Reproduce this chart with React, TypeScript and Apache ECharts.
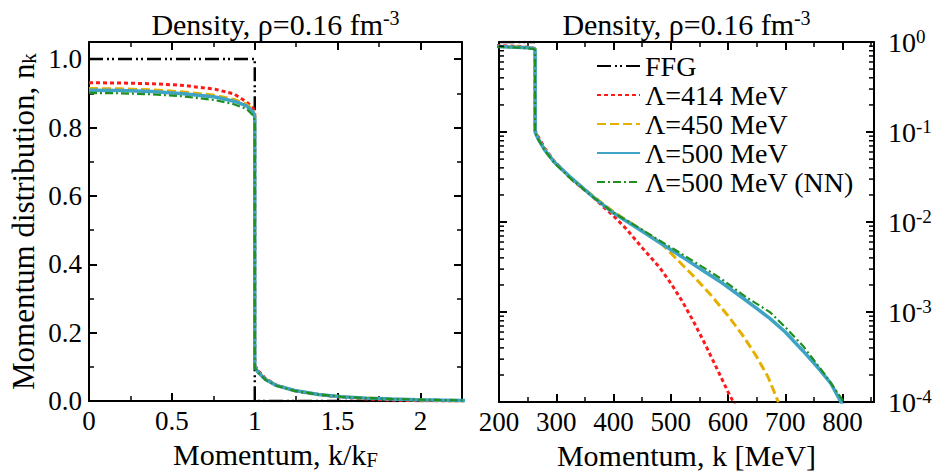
import React, { useEffect, useRef } from 'react';
import * as echarts from 'echarts';

// Fermi momentum at rho = 0.16 fm^-3 (MeV)
const K_F = 263;

// FFG step function
const kFFG = [0, 263, 263, 855];
const nFFG = [1, 1, 0, 0];

// Lambda = 414 MeV
const k414 = [0, 50, 100, 150, 200, 230, 250, 260, 263, 263, 268, 280, 297, 326, 341, 364, 382, 400, 423, 451, 481, 500, 520, 540, 560, 580, 600, 612];
const n414 = [0.931, 0.930, 0.928, 0.923, 0.912, 0.898, 0.875, 0.858, 0.845, 0.105, 0.090, 0.066, 0.047, 0.0302, 0.0251, 0.0191, 0.0148, 0.0117, 0.0083, 0.0051, 0.0031, 0.0021, 0.00132, 0.00078, 0.00044, 0.00024, 0.00013, 0.000093];

// Lambda = 450 MeV
const k450 = [0, 50, 100, 150, 200, 230, 250, 260, 263, 263, 268, 280, 297, 326, 364, 400, 440, 481, 510, 540, 570, 600, 625, 650, 670, 688];
const n450 = [0.914, 0.913, 0.910, 0.904, 0.894, 0.882, 0.868, 0.851, 0.835, 0.100, 0.086, 0.064, 0.046, 0.031, 0.0195, 0.013, 0.0089, 0.006, 0.0039, 0.0025, 0.00155, 0.00091, 0.00056, 0.00032, 0.00019, 0.0001];

// Lambda = 500 MeV
const k500 = [0, 50, 100, 150, 200, 230, 250, 260, 263, 263, 268, 280, 297, 326, 364, 400, 440, 481, 520, 556, 590, 624, 650, 673, 700, 731, 760, 780, 800];
const n500 = [0.909, 0.908, 0.905, 0.899, 0.889, 0.877, 0.863, 0.846, 0.830, 0.100, 0.085, 0.063, 0.046, 0.0309, 0.0191, 0.0126, 0.0087, 0.0059, 0.0041, 0.0029, 0.0021, 0.00146, 0.0011, 0.00085, 0.0006, 0.00037, 0.00023, 0.00016, 0.000093];

// Lambda = 500 MeV (NN only)
const kNN = [0, 50, 100, 150, 200, 230, 250, 260, 263, 263, 268, 280, 297, 326, 364, 400, 440, 481, 510, 556, 590, 632, 673, 700, 731, 770, 806];
const nNN = [0.901, 0.900, 0.897, 0.891, 0.880, 0.868, 0.854, 0.836, 0.820, 0.098, 0.084, 0.062, 0.045, 0.030, 0.019, 0.0127, 0.009, 0.0062, 0.0048, 0.00316, 0.0023, 0.00146, 0.001, 0.00068, 0.00042, 0.0002, 0.000093];

const seriesNames = ['FFG', 'Λ=414 MeV', 'Λ=450 MeV', 'Λ=500 MeV', 'Λ=500 MeV (NN)'];
const seriesK = [kFFG, k414, k450, k500, kNN];
const seriesN = [nFFG, n414, n450, n500, nNN];
const seriesColors = ['#000000', '#ff1a1a', '#e6b000', '#3ea3c4', '#1f8f1f'];
const seriesWidths = [2.5, 3, 3, 3.5, 2.2];
const seriesDash: any[] = [[14, 4, 2, 3, 2, 4], [4, 3], [9, 4], 'solid', [8, 3, 2, 3]];

// Log axis minor tick values
const logDecades = [-4, -3, -2, -1];
const logMantissas = [2, 3, 4, 5, 6, 7, 8, 9];

const X_LEFT = [0, 2.25];
const X_RIGHT = [200, 855];
const Y_LEFT = [0, 1.05];
const Y_RIGHT = [1e-4, 1];

const FONT = 'Liberation Serif, Times New Roman, DejaVu Serif, serif';

export default function App() {
  const ref = useRef<HTMLDivElement>(null);
  useEffect(() => {
    document.body.style.margin = '0';
    const chart = echarts.init(ref.current!, null, { renderer: 'svg' });

    const axisLine = { onZero: false, lineStyle: { color: '#000', width: 2 } };
    const axisTick = { inside: true, length: 8, lineStyle: { color: '#000', width: 2 } };
    const minorTick = { show: true, splitNumber: 2, length: 5, lineStyle: { color: '#000', width: 1.5 } };
    const labelStyle = { color: '#000', fontFamily: FONT, fontSize: 27 };

    const lineSeries: any[] = [];
    for (let i = 0; i < seriesNames.length; i++) {
      const ks = seriesK[i];
      const ns = seriesN[i];
      const base = {
        type: 'line',
        name: seriesNames[i],
        showSymbol: false,
        symbol: 'none',
        color: seriesColors[i],
        itemStyle: { opacity: 0 },
        lineStyle: { color: seriesColors[i], width: seriesWidths[i], type: seriesDash[i] },
        z: 2 + i,
      };
      lineSeries.push({
        ...base,
        xAxisIndex: 0,
        yAxisIndex: 0,
        data: ks.map((k, j) => [k / K_F, ns[j]]),
      });
      const logData: number[][] = [];
      ks.forEach((k, j) => { if (ns[j] > 0) logData.push([k, ns[j]]); });
      lineSeries.push({
        ...base,
        xAxisIndex: 2,
        yAxisIndex: 2,
        data: logData,
      });
    }

    const minorVals: number[][] = [];
    logDecades.forEach((d) => logMantissas.forEach((m) => minorVals.push([X_RIGHT[0], m * Math.pow(10, d)])));

    const tickSeries = {
      type: 'custom',
      xAxisIndex: 2,
      yAxisIndex: 2,
      silent: true,
      z: 10,
      data: minorVals,
      renderItem: (params: any, api: any) => {
        const v = api.value(1);
        const p0 = api.coord([X_RIGHT[0], v]);
        const p1 = api.coord([X_RIGHT[1], v]);
        const st = { stroke: '#000', lineWidth: 1.5 };
        return {
          type: 'group',
          children: [
            { type: 'line', shape: { x1: p0[0], y1: p0[1], x2: p0[0] + 5, y2: p0[1] }, style: st },
            { type: 'line', shape: { x1: p1[0] - 5, y1: p1[1], x2: p1[0], y2: p1[1] }, style: st },
          ],
        };
      },
    };

    const richTitle = {
      b: { fontFamily: FONT, fontSize: 30, lineHeight: 32, color: '#000' },
      s: { fontFamily: FONT, fontSize: 20, lineHeight: 19, verticalAlign: 'top', color: '#000' },
    };

    const option: any = {
      animation: false,
      backgroundColor: '#fff',
      textStyle: { fontFamily: FONT },
      grid: [
        { left: 89, top: 42, width: 373, height: 373 },
        { left: 499, top: 42, width: 375, height: 374 },
      ],
      xAxis: [
        {
          type: 'value', gridIndex: 0, position: 'bottom', min: X_LEFT[0], max: X_LEFT[1], interval: 0.5,
          axisLine, axisTick, minorTick, splitLine: { show: false },
          axisLabel: { ...labelStyle, margin: 6, showMaxLabel: false, formatter: (v: number) => String(v) },
          name: '{b|Momentum, k/k}{s|F}', nameLocation: 'middle', nameGap: 29,
          nameTextStyle: { fontFamily: FONT, rich: {
            b: { fontFamily: FONT, fontSize: 30, lineHeight: 32, color: '#000' },
            s: { fontFamily: FONT, fontSize: 21, lineHeight: 19, verticalAlign: 'bottom', color: '#000' },
          } },
        },
        {
          type: 'value', gridIndex: 0, position: 'top', min: X_LEFT[0], max: X_LEFT[1], interval: 0.5,
          axisLine, axisTick, minorTick, splitLine: { show: false }, axisLabel: { show: false },
        },
        {
          type: 'value', gridIndex: 1, position: 'bottom', min: X_RIGHT[0], max: X_RIGHT[1], interval: 100,
          axisLine, axisTick, minorTick, splitLine: { show: false },
          axisLabel: { ...labelStyle, margin: 6, showMaxLabel: false },
          name: 'Momentum, k [MeV]', nameLocation: 'middle', nameGap: 29,
          nameTextStyle: { fontFamily: FONT, fontSize: 30, color: '#000', verticalAlign: 'top' },
        },
        {
          type: 'value', gridIndex: 1, position: 'top', min: X_RIGHT[0], max: X_RIGHT[1], interval: 100,
          axisLine, axisTick, minorTick, splitLine: { show: false }, axisLabel: { show: false },
        },
      ],
      yAxis: [
        {
          type: 'value', gridIndex: 0, position: 'left', min: Y_LEFT[0], max: Y_LEFT[1], interval: 0.2,
          axisLine, axisTick, minorTick, splitLine: { show: false },
          axisLabel: { ...labelStyle, margin: 7, showMaxLabel: false, formatter: (v: number) => v.toFixed(1) },
          name: '{b|Momentum distribution, n}{s|k}', nameLocation: 'middle', nameGap: 50,
          nameTextStyle: { fontFamily: FONT, rich: {
            b: { fontFamily: FONT, fontSize: 31, lineHeight: 32, color: '#000' },
            s: { fontFamily: FONT, fontSize: 21, lineHeight: 19, verticalAlign: 'bottom', color: '#000' },
          } },
        },
        {
          type: 'value', gridIndex: 0, position: 'right', min: Y_LEFT[0], max: Y_LEFT[1], interval: 0.2,
          axisLine, axisTick, minorTick, splitLine: { show: false }, axisLabel: { show: false },
        },
        {
          type: 'log', logBase: 10, gridIndex: 1, position: 'right', min: Y_RIGHT[0], max: Y_RIGHT[1],
          axisLine, axisTick, minorTick: { show: false }, splitLine: { show: false },
          axisLabel: {
            margin: 14,
            fontFamily: FONT,
            formatter: (v: number) => `{b|10}{s|${Math.round(Math.log10(v))}}`,
            rich: {
              b: { fontFamily: FONT, fontSize: 28, lineHeight: 30, color: '#000' },
              s: { fontFamily: FONT, fontSize: 19, lineHeight: 18, verticalAlign: 'top', color: '#000' },
            },
          },
        },
        {
          type: 'log', logBase: 10, gridIndex: 1, position: 'left', min: Y_RIGHT[0], max: Y_RIGHT[1],
          axisLine, axisTick, minorTick: { show: false }, splitLine: { show: false }, axisLabel: { show: false },
        },
      ],
      legend: {
        data: seriesNames,
        orient: 'vertical',
        left: 591,
        top: 47,
        itemWidth: 43,
        itemHeight: 14,
        itemGap: 1,
        selectedMode: false,
        itemStyle: { opacity: 0 },
        textStyle: { fontFamily: FONT, fontSize: 28, lineHeight: 25, color: '#000' },
      },
      graphic: [
        { type: 'text', x: 275.5, y: 24, style: { text: '{b|Density, ρ=0.16 fm}{s|-3}', fontFamily: FONT, rich: richTitle, align: 'center', verticalAlign: 'middle' } },
        { type: 'text', x: 686.5, y: 24, style: { text: '{b|Density, ρ=0.16 fm}{s|-3}', fontFamily: FONT, rich: richTitle, align: 'center', verticalAlign: 'middle' } },
      ],
      series: [...lineSeries, tickSeries],
    };
    chart.setOption(option);
    return () => chart.dispose();
  }, []);
  return <div ref={ref} style={{ width: 938, height: 475 }} />;
}
